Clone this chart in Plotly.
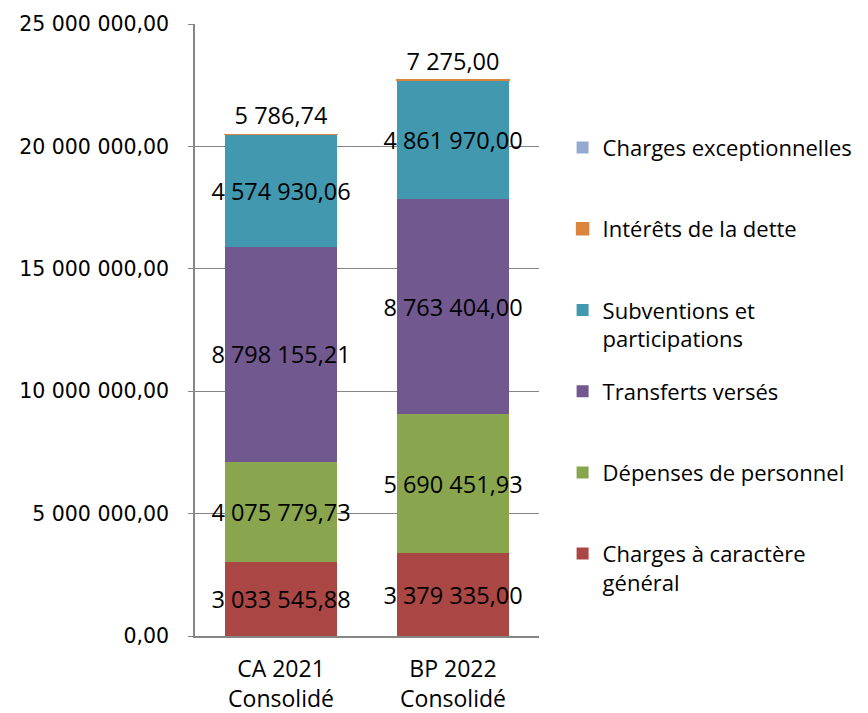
import plotly.graph_objects as go

categories = ['CA 2021<br>Consolidé', 'BP 2022<br>Consolidé']

# series, bottom of the stack first
series_names = [
    'Charges à caractère général',
    'Dépenses de personnel',
    'Transferts versés',
    'Subventions et participations',
    'Intérêts de la dette',
    'Charges exceptionnelles',
]
legend_labels = [
    'Charges à caractère<br>général',
    'Dépenses de personnel<br> ',
    'Transferts versés<br> ',
    'Subventions et<br>participations',
    'Intérêts de la dette<br> ',
    'Charges exceptionnelles<br> ',
]
charges_generales = [3033545.88, 3379335.00]
depenses_personnel = [4075779.73, 5690451.93]
transferts_verses = [8798155.21, 8763404.00]
subventions = [4574930.06, 4861970.00]
interets_dette = [5786.74, 7275.00]
charges_exceptionnelles = [None, None]

y_ticks = [0, 5000000, 10000000, 15000000, 20000000, 25000000]

colors = ['#AA4643', '#89A54E', '#71588F', '#4198AF', '#DB843D', '#93A9CF']
values = [charges_generales, depenses_personnel, transferts_verses,
          subventions, interets_dette, charges_exceptionnelles]

FONT = 'Open Sans'
TICK_FONT = 'DejaVu Sans'

fig = go.Figure()
n = len(series_names)
for i, (name, label, vals, col) in enumerate(zip(series_names, legend_labels, values, colors)):
    outside = name == 'Intérêts de la dette'
    fig.add_trace(go.Bar(
        x=categories,
        y=vals,
        name=label,
        legendgroup=name,
        legendrank=n - i,
        marker=dict(color=col, line=dict(color=col, width=1.5 if outside else 0)),
        texttemplate='%{y:,.2f}' if name != 'Charges exceptionnelles' else None,
        textposition='outside' if outside else 'inside',
        insidetextanchor='middle',
        textangle=0,
        constraintext='none',
        textfont=dict(family=FONT, size=23.5, color='black'),
        cliponaxis=False,
        hoverinfo='skip',
    ))

# page body has an 8px margin, so everything is shifted by -8px here
fig.update_layout(
    barmode='stack',
    bargap=0.35,
    width=860,
    height=705,
    margin=dict(l=187, r=328, t=16, b=77),
    paper_bgcolor='white',
    plot_bgcolor='white',
    separators=', ',
    font=dict(family=FONT, size=20, color='black'),
    legend=dict(
        traceorder='grouped',
        tracegroupgap=21,
        x=1.0655,
        xanchor='left',
        y=0.832,
        yanchor='top',
        valign='top',
        font=dict(family=FONT, size=22, color='black'),
    ),
)
fig.update_yaxes(
    range=[0, 25000000],
    tickvals=y_ticks,
    tickformat=',.2f',
    showline=True,
    linecolor='#868686',
    linewidth=1.5,
    ticks='outside',
    ticklen=5,
    tickcolor='#868686',
    ticklabelstandoff=15,
    showgrid=True,
    gridcolor='#868686',
    gridwidth=1,
    zeroline=False,
    automargin=False,
    tickfont=dict(family=TICK_FONT, size=20.5, color='black'),
)
fig.update_xaxes(
    showline=True,
    linecolor='#868686',
    linewidth=1.5,
    ticks='',
    automargin=False,
    tickfont=dict(family=FONT, size=23, color='black'),
    ticklabelstandoff=12,
)

fig.write_html('out.html')
